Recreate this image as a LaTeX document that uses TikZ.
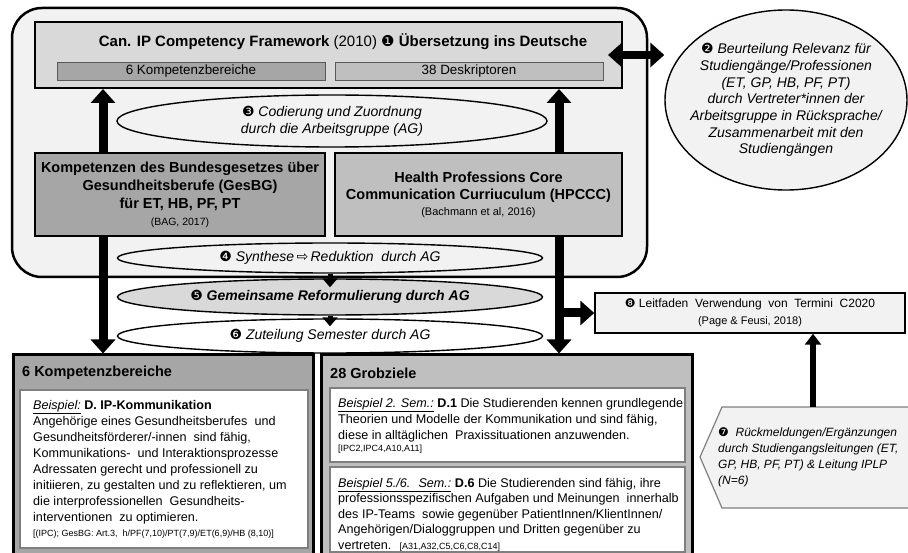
\documentclass[tikz,border=0pt]{standalone}
\usepackage{fontspec}
\setmainfont{Liberation Sans}
\newfontfamily\dingfont{DejaVu Sans}
\usetikzlibrary{arrows.meta,shapes.geometric}
\definecolor{bgl}{HTML}{F2F2F2}
\definecolor{gD9}{HTML}{D9D9D9}
\definecolor{gBF}{HTML}{BFBFBF}
\definecolor{gA6}{HTML}{A6A6A6}
\definecolor{g80}{HTML}{7F7F7F}
\newcommand{\nr}[1]{{\dingfont\mdseries\upshape #1}}
\newcommand{\srcs}{\fontsize{9}{11}\selectfont}

\begin{document}
\begin{tikzpicture}[x=1pt,y=-1pt,
  bigtip/.tip={Triangle[length=14pt,width=24pt]},
  midtip/.tip={Triangle[length=11pt,width=16pt]},
  smalltip/.tip={Triangle[length=9pt,width=15pt]},
  box/.style={draw,line width=1.6pt,inner sep=0pt,align=center},
  ell/.style={draw,ellipse,line width=1.4pt,inner xsep=-12pt,inner ysep=-4pt,align=center,font=\fontsize{14}{16.7}\selectfont\itshape},
  bigarr/.style={line width=9pt,-bigtip},
  midarr/.style={line width=6pt,-midtip},
  smallarr/.style={line width=5pt,-smalltip},
  txt/.style={inner sep=0pt,align=left,anchor=north west,font=\fontsize{12.6}{16}\selectfont},
  inbox/.style={draw=g80,line width=1.5pt,fill=white,inner sep=0pt}]
\useasboundingbox (0,0) rectangle (908,553);
\clip (0,0) rectangle (908,553);

\node[draw,line width=2.5pt,rounded corners=30pt,fill=bgl,minimum width=635pt,minimum height=269pt] (F0) at (329.5,142.5) {};

\node[box,line width=2pt,fill=gD9,minimum width=587pt,minimum height=66pt] (T0) at (328.5,55) {};
\node[inner sep=0pt,font=\fontsize{15}{18}\selectfont] (T0t) at (343,42) {\textbf{Can. IP Competency Framework} (2010) \nr{❶} \textbf{Übersetzung ins Deutsche}};
\node[box,line width=0.8pt,draw=black!65,fill=gA6,minimum width=268pt,minimum height=18pt,font=\fontsize{13.4}{16}\selectfont] (T1) at (191,71) {6 Kompetenzbereiche};
\node[box,line width=0.8pt,draw=black!65,fill=gBF,minimum width=268pt,minimum height=18pt,font=\fontsize{13.4}{16}\selectfont] (T2) at (469,71) {38 Deskriptoren};

\node[ell,fill=bgl,minimum width=242pt,minimum height=180pt] (E2) at (786,100) {\nr{❷} Beurteilung Relevanz für\\Studiengänge/Professionen\\(ET, GP, HB, PF, PT)\\durch Vertreter*innen der\\Arbeitsgruppe in Rücksprache/\\Zusammenarbeit mit den\\Studiengängen};

\node[ell,fill=bgl,minimum width=430pt,minimum height=52pt] (E3) at (332,121) {\nr{❸} Codierung und Zuordnung\\durch die Arbeitsgruppe (AG)};

\node[box,fill=gA6,minimum width=290pt,minimum height=83pt,font=\fontsize{14.5}{18}\selectfont\bfseries] (B1) at (180,194.5) {Kompetenzen des Bundesgesetzes über\\Gesundheitsberufe (GesBG)\\für ET, HB, PF, PT\\[-1pt]{\mdseries\fontsize{10.5}{13}\selectfont (BAG, 2017)}};
\node[box,fill=gBF,minimum width=287pt,minimum height=83pt,font=\fontsize{14.5}{17}\selectfont\bfseries] (B2) at (478.5,194.5) {Health Professions Core\\Communication Curriuculum (HPCCC)\\[-1pt]{\mdseries\fontsize{11}{13}\selectfont (Bachmann et al, 2016)}};

\node[ell,fill=bgl,minimum width=425pt,minimum height=30pt] (E4) at (330,258) {\nr{❹} Synthese\,\nr{⇨}\,Reduktion\ \ durch AG};
\node[ell,fill=gD9,minimum width=425pt,minimum height=36pt,font=\fontsize{14}{17}\selectfont\bfseries\itshape] (E5) at (330,297) {\nr{❺} Gemeinsame Reformulierung durch AG};
\node[ell,fill=white,minimum width=425pt,minimum height=34pt] (E6) at (330,336) {\nr{❻} Zuteilung Semester durch AG};

\node[draw,line width=3pt,fill=gA6,minimum width=300pt,minimum height=210pt] (K6) at (163,460) {};
\node[anchor=west,inner sep=0pt,font=\fontsize{14.5}{17}\selectfont\bfseries] (K6t) at (22,373) {6 Kompetenzbereiche};
\node[inbox,minimum width=288pt,minimum height=158pt] (K6i) at (164,469) {};
\node[txt] (K6x) at (33,400) {\underline{\textit{Beispiel:}} \textbf{D. IP-Kommunikation}\\
Angehörige eines Gesundheitsberufes \ und\\
Gesundheitsförderer/-innen \ sind fähig,\\
Kommunikations- \ und Interaktionsprozesse\\
Adressaten gerecht und professionell zu\\
initiieren, zu gestalten und zu reflektieren, um\\
die interprofessionellen \ Gesundheits-\\
interventionen \ zu optimieren.\\[-1pt]
{\srcs [(IPC); GesBG: Art.3, \ h/PF(7,10)/PT(7,9)/ET(6,9)/HB (8,10)]}};

\node[draw,line width=3pt,fill=gBF,minimum width=371pt,minimum height=210pt] (G28) at (506.5,460) {};
\node[anchor=west,inner sep=0pt,font=\fontsize{14.5}{17}\selectfont\bfseries] (G28t) at (330,373) {28 Grobziele};
\node[inbox,minimum width=355pt,minimum height=74pt] (G1) at (507.5,425) {};
\node[txt] (G1x) at (338,398) {\underline{\textit{Beispiel 2. Sem.:}} \textbf{D.1} Die Studierenden kennen grundlegende\\
Theorien und Modelle der Kommunikation und sind fähig,\\
diese in alltäglichen \ Praxissituationen anzuwenden.\\[-4pt]
{\srcs [IPC2,IPC4,A10,A11]}};
\node[inbox,minimum width=355pt,minimum height=85pt] (G2) at (507.5,509.5) {};
\node[txt,font=\fontsize{12.6}{15.5}\selectfont] (G2x) at (338,478) {\underline{\textit{Beispiel 5./6. \ Sem.:}} \textbf{D.6} Die Studierenden sind fähig, ihre\\
professionsspezifischen Aufgaben und Meinungen \ innerhalb\\
des IP-Teams \ sowie gegenüber PatientInnen/KlientInnen/\\
Angehörigen/Dialoggruppen und Dritten gegenüber zu\\
vertreten. \ {\srcs [A31,A32,C5,C6,C8,C14]}};

\node[draw,line width=1.5pt,fill=bgl,minimum width=310pt,minimum height=40pt,align=center,font=\fontsize{12}{17}\selectfont] (L8) at (750,313) {\nr{❽} Leitfaden \ Verwendung \ von \ Termini \ C2020\\{\fontsize{11}{13}\selectfont (Page \& Feusi, 2018)}};

\draw[draw=g80,line width=1.2pt,fill=bgl] (700,457) -- (722,407) -- (915,407) -- (915,508) -- (722,508) -- cycle;
\coordinate (P7n) at (813,407);
\node[anchor=west,align=left,inner sep=0pt,font=\fontsize{12}{16}\selectfont\itshape] (P7) at (718,457) {\nr{❼} \ Rückmeldungen/Ergänzungen\\durch Studiengangsleitungen (ET,\\GP, HB, PF, PT) \& Leitung IPLP\\(N=6)};

\coordinate (lx) at (103,0);
\coordinate (rx) at (559,0);
\draw[bigarr] (B1.north -| lx) -- (T0.south -| lx);
\draw[bigarr] (B1.south -| lx) -- (K6.north -| lx);
\draw[bigarr] (B2.north -| rx) -- (T0.south -| rx);
\draw[bigarr] (B2.south -| rx) -- (G28.north -| rx);
\draw[bigarr] (rx |- L8.west) -- (L8.west);
\draw[line width=8pt,bigtip-bigtip] ([xshift=-15pt]T0.east) -- (T0.east -| E2.west);
\draw[smallarr] (E4.south) -- ([yshift=-9pt]E5.north);
\draw[smallarr] (E5.south) -- ([yshift=-8pt]E6.north);
\draw[midarr] (P7n) -- (L8.south -| P7n);
\end{tikzpicture}
\end{document}
